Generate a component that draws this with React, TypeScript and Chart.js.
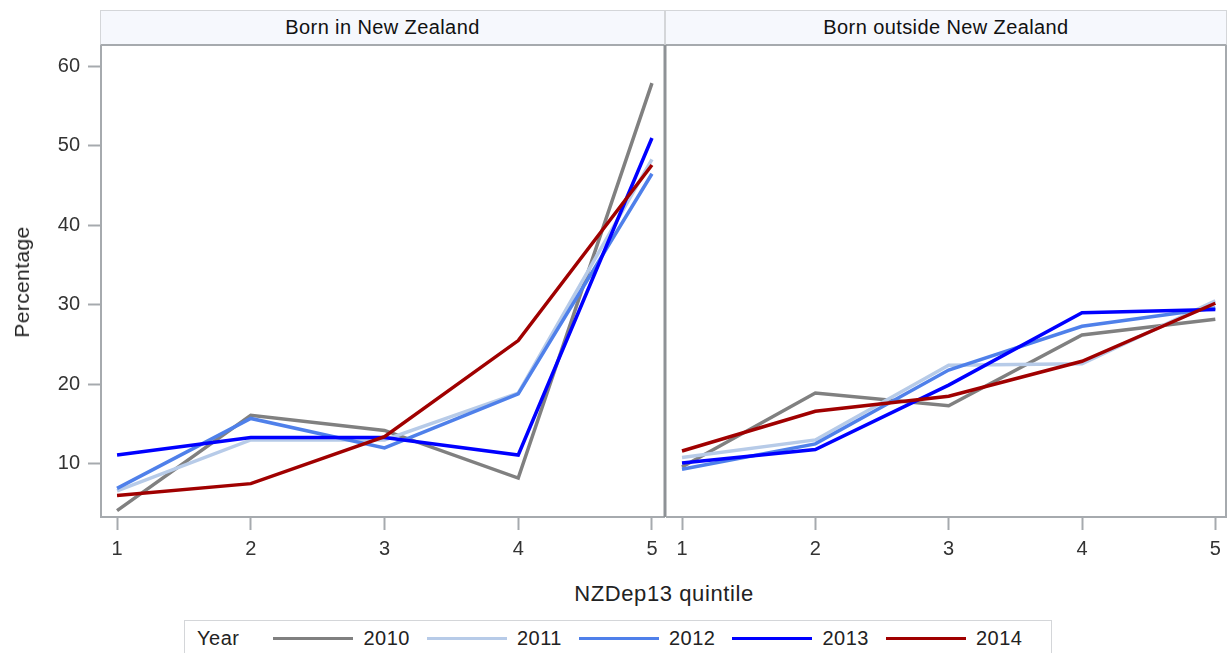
import { Chart, registerables } from "chart.js";
import { useEffect, useRef } from "react";

Chart.register(...registerables);

const QUINTILES = [1, 2, 3, 4, 5];
const YEARS = ["2010", "2011", "2012", "2013", "2014"];
const Y_TICKS = [10, 20, 30, 40, 50, 60];

// Born in New Zealand, % by quintile
const nz2010 = [4.1, 16.1, 14.2, 8.2, 57.9];
const nz2011 = [6.6, 13.0, 13.0, 18.9, 48.3];
const nz2012 = [6.9, 15.7, 12.0, 18.8, 46.5];
const nz2013 = [11.1, 13.3, 13.3, 11.1, 51.0];
const nz2014 = [6.0, 7.5, 13.4, 25.5, 47.6];

// Born outside New Zealand
const out2010 = [9.6, 18.9, 17.3, 26.2, 28.2];
const out2011 = [10.8, 13.0, 22.4, 22.6, 30.5];
const out2012 = [9.3, 12.5, 21.8, 27.3, 29.6];
const out2013 = [10.1, 11.8, 19.9, 29.0, 29.4];
const out2014 = [11.6, 16.6, 18.5, 22.9, 30.2];

const PANELS = ["Born in New Zealand", "Born outside New Zealand"];

const COLORS = ["#808080", "#b7cbe8", "#4f80ea", "#0000ff", "#a00000"];
const FONT = "'Liberation Sans', Arial, sans-serif";
const AXIS_GRAY = "#a6aaae";

function buildDatasets(series: number[][]) {
  return series.map((vals, i) => ({
    label: YEARS[i],
    data: vals.map((v, j) => ({ x: QUINTILES[j], y: v })),
    borderColor: COLORS[i],
    backgroundColor: COLORS[i],
    borderWidth: 3.5,
    pointRadius: 0,
    tension: 0,
    order: YEARS.length - i,
  }));
}

// draws the panel divider / right frame edge
const framePlugin = {
  id: "frame",
  afterDraw(chart: any, _args: any, opts: any) {
    const { ctx, chartArea } = chart;
    ctx.save();
    ctx.strokeStyle = opts.color;
    ctx.lineWidth = opts.width;
    const x = chartArea.right + opts.shift;
    ctx.beginPath();
    ctx.moveTo(x, chartArea.top);
    ctx.lineTo(x, chartArea.bottom);
    ctx.stroke();
    ctx.restore();
  },
};

function Panel({
  series,
  showY,
  xMax,
  padRight,
  frameColor,
  frameWidth,
  frameShift,
}: {
  series: number[][];
  showY: boolean;
  xMax: number;
  padRight: number;
  frameColor: string;
  frameWidth: number;
  frameShift: number;
}) {
  const canvasRef = useRef<HTMLCanvasElement>(null);
  const chartRef = useRef<Chart<"line"> | null>(null);

  useEffect(() => {
    if (chartRef.current) chartRef.current.destroy();
    if (!canvasRef.current) return;

    chartRef.current = new Chart(canvasRef.current, {
      type: "line",
      data: { datasets: buildDatasets(series) as any },
      plugins: [framePlugin],
      options: {
        animation: false,
        responsive: true,
        maintainAspectRatio: false,
        layout: { padding: { left: 0, right: padRight, top: 0, bottom: 0 } },
        plugins: {
          legend: { display: false },
          tooltip: { enabled: false },
          frame: { color: frameColor, width: frameWidth, shift: frameShift },
        } as any,
        scales: {
          x: {
            type: "linear",
            min: 0.88,
            max: xMax,
            afterBuildTicks: (scale: any) => {
              scale.ticks = QUINTILES.map((v) => ({ value: v }));
            },
            afterFit: (scale: any) => {
              scale.height = 43;
              scale.paddingLeft = 0;
              scale.paddingRight = 0;
            },
            grid: {
              drawOnChartArea: false,
              drawTicks: true,
              tickLength: 13,
              tickColor: AXIS_GRAY,
              tickWidth: 2,
            },
            border: { display: true, color: AXIS_GRAY, width: 2 },
            ticks: {
              color: "#333",
              padding: 7,
              autoSkip: false,
              maxRotation: 0,
              font: { family: FONT, size: 20 },
              callback: (v: any) => String(v),
            },
          },
          y: {
            type: "linear",
            display: showY,
            min: 3.3,
            max: 62.7,
            afterBuildTicks: (scale: any) => {
              scale.ticks = Y_TICKS.map((v) => ({ value: v }));
            },
            afterFit: (scale: any) => {
              scale.width = showY ? 101 : 0;
              scale.paddingTop = 0;
              scale.paddingBottom = 0;
            },
            grid: {
              drawOnChartArea: false,
              drawTicks: true,
              tickLength: 13,
              tickColor: AXIS_GRAY,
              tickWidth: 2,
            },
            border: { display: true, color: AXIS_GRAY, width: 2 },
            ticks: {
              color: "#333",
              padding: 8,
              font: { family: FONT, size: 20 },
              callback: (v: any) => String(v),
            },
          },
        },
      },
    });

    return () => {
      if (chartRef.current) {
        chartRef.current.destroy();
        chartRef.current = null;
      }
    };
  }, []);

  return <canvas ref={canvasRef}></canvas>;
}

const stripStyle = (left: number, width: number): React.CSSProperties => ({
  position: "absolute",
  left,
  top: 10,
  width,
  height: 33,
  background: "#f6f8fd",
  border: "1px solid #d4d6d9",
  borderBottom: "2px solid " + AXIS_GRAY,
  display: "flex",
  alignItems: "center",
  justifyContent: "center",
  fontFamily: FONT,
  fontSize: 20,
  letterSpacing: 0.4,
  color: "#111",
  boxSizing: "content-box",
});

export default function App() {
  return (
    <div
      style={{
        position: "absolute",
        left: 0,
        top: 0,
        width: 1228,
        height: 653,
        background: "#fff",
        overflow: "hidden",
        fontFamily: FONT,
      }}
    >
      <div style={stripStyle(100, 563)}>{PANELS[0]}</div>
      <div style={stripStyle(665, 560)}>{PANELS[1]}</div>

      <div style={{ position: "absolute", left: 0, top: 45, width: 668, height: 515 }}>
        <Panel
          series={[nz2010, nz2011, nz2012, nz2013, nz2014]}
          showY={true}
          xMax={5.09}
          padRight={4}
          frameColor="#8e9296"
          frameWidth={3}
          frameShift={1}
        />
      </div>
      <div style={{ position: "absolute", left: 666, top: 45, width: 562, height: 515 }}>
        <Panel
          series={[out2010, out2011, out2012, out2013, out2014]}
          showY={false}
          xMax={5.08}
          padRight={2}
          frameColor={AXIS_GRAY}
          frameWidth={2}
          frameShift={0}
        />
      </div>

      <div
        style={{
          position: "absolute",
          left: 22,
          top: 282,
          transform: "translate(-50%, -50%) rotate(-90deg)",
          whiteSpace: "nowrap",
          fontSize: 21,
          letterSpacing: 0.4,
          color: "#222",
        }}
      >
        Percentage
      </div>

      <div
        style={{
          position: "absolute",
          left: 664,
          top: 594,
          transform: "translate(-50%, -50%)",
          whiteSpace: "nowrap",
          fontSize: 22,
          letterSpacing: 0.6,
          color: "#222",
        }}
      >
        NZDep13 quintile
      </div>

      <div
        style={{
          position: "absolute",
          left: 184,
          top: 620,
          width: 866,
          height: 34,
          border: "1px solid #d4d6d9",
          display: "flex",
          alignItems: "center",
          fontSize: 20,
          letterSpacing: 0.5,
          color: "#222",
        }}
      >
        <span style={{ marginLeft: 12 }}>Year</span>
        {YEARS.map((y, i) => (
          <span key={y} style={{ display: "flex", alignItems: "center" }}>
            <span
              style={{
                display: "inline-block",
                marginLeft: i === 0 ? 34 : 17,
                width: 80,
                height: 3,
                background: COLORS[i],
              }}
            ></span>
            <span style={{ marginLeft: 10 }}>{y}</span>
          </span>
        ))}
      </div>
    </div>
  );
}
